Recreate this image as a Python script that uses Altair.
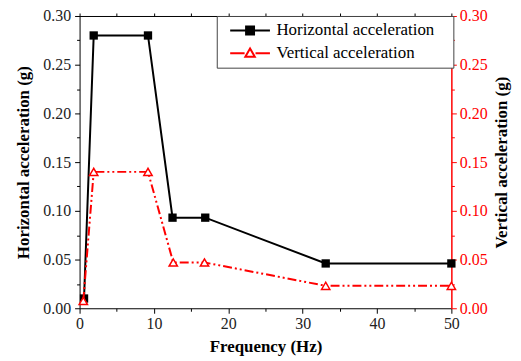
import altair as alt
import pandas as pd

# ---- data ----
series = ["Horizontal acceleration", "Vertical acceleration"]
freq_h = [0.6, 1.9, 9.2, 12.5, 16.9, 33.1, 50.0]
acc_h = [0.010, 0.280, 0.280, 0.093, 0.093, 0.046, 0.046]
freq_v = [0.5, 1.9, 9.2, 12.6, 16.8, 33.1, 50.0]
acc_v = [0.0075, 0.140, 0.140, 0.047, 0.047, 0.023, 0.023]
x_ticks = [0, 5, 10, 15, 20, 25, 30, 35, 40, 45, 50]
y_ticks = [0.0, 0.025, 0.05, 0.075, 0.1, 0.125, 0.15, 0.175, 0.2, 0.225, 0.25, 0.275, 0.3]

df_h = pd.DataFrame({"freq": freq_h, "acc": acc_h, "series": series[0]})
df_v = pd.DataFrame({"freq": freq_v, "acc": acc_v, "series": series[1]})
df_leg = pd.DataFrame({"series": series})

FONT = "Liberation Serif, Times New Roman, serif"
x_scale = alt.Scale(domain=[0, 50], nice=False, zero=False)
y_scale = alt.Scale(domain=[0, 0.3], nice=False)

lab_x = "datum.value % 10 === 0 ? datum.label : ''"
lab_y = "round(datum.value * 1000) % 50 === 0 ? format(datum.value, '.2f') : ''"
tick_x = {"condition": {"test": "datum.value % 10 === 0", "value": 5}, "value": 3}
tick_y = {"condition": {"test": "round(datum.value * 1000) % 50 === 0", "value": 5}, "value": 3}

common = dict(grid=False, labelFont=FONT, labelFontSize=16, titleFont=FONT,
              titleFontSize=17, titleFontWeight="bold", titleColor="black")

x_bottom = alt.Axis(values=x_ticks, labelExpr=lab_x, tickSize=tick_x, title="Frequency (Hz)",
                    domainColor="black", tickColor="black", labelColor="#222",
                    labelPadding=2, titlePadding=7, labelFlush=False, **common)
x_top = alt.Axis(orient="top", values=x_ticks, labels=False, tickSize=3, title=None,
                 domainColor="black", tickColor="black", grid=False)
y_left = alt.Axis(values=y_ticks, labelExpr=lab_y, tickSize=tick_y,
                  title="Horizontal acceleration (g)", domainColor="black", tickColor="black",
                  labelColor="#222", labelPadding=4, titlePadding=10, labelFlush=False, **common)
y_right = alt.Axis(orient="right", values=y_ticks, labelExpr=lab_y, tickSize=tick_y,
                   title="Vertical acceleration (g)", titleAngle=270, domainColor="red",
                   tickColor="red", labelColor="red", labelPadding=3, titlePadding=23,
                   domainWidth=1.5, labelFlush=False, **common)

line_h = alt.Chart(df_h).mark_line(color="black", strokeWidth=2).encode(
    x=alt.X("freq:Q", scale=x_scale, axis=x_bottom),
    y=alt.Y("acc:Q", scale=y_scale, axis=y_left),
)
pts_h = alt.Chart(df_h).mark_point(shape="square", filled=True, color="black", size=70, opacity=1).encode(
    x=alt.X("freq:Q", scale=x_scale, axis=x_top),
    y=alt.Y("acc:Q", scale=y_scale, axis=None),
)
line_v = alt.Chart(df_v).mark_line(color="red", strokeWidth=2, strokeDash=[9, 3, 2, 3, 2, 3]).encode(
    x=alt.X("freq:Q", scale=x_scale, axis=None),
    y=alt.Y("acc:Q", scale=y_scale, axis=y_right),
)
pts_v = alt.Chart(df_v).mark_point(shape="triangle-up", filled=True, fill="white", stroke="red",
                                   strokeWidth=1.5, size=70, opacity=1).encode(
    x=alt.X("freq:Q", scale=x_scale, axis=None),
    y=alt.Y("acc:Q", scale=y_scale, axis=None),
)

path_h = "M-4,0L4,0M-0.8,-0.8L0.8,-0.8L0.8,0.8L-0.8,0.8Z"
path_v = "M-4,0L-1.1,0M1.1,0L4,0M0,-0.95L0.95,0.7L-0.95,0.7Z"

leg = alt.Legend(title=None, orient="none", legendX=138, legendY=0, padding=6,
                 strokeColor="#444", fillColor="white", symbolSize=100, symbolStrokeWidth=2,
                 symbolOffset=19, labelOffset=18, labelFont=FONT, labelFontSize=17,
                 labelColor="black", rowPadding=5, symbolOpacity=1, labelLimit=300,
                 labelExpr="datum.label + '\u2800'")

legend_layer = alt.Chart(df_leg).transform_filter("false").mark_point(size=100, strokeWidth=2).encode(
    color=alt.Color("series:N", scale=alt.Scale(domain=series, range=["black", "red"]), legend=leg),
    shape=alt.Shape("series:N", scale=alt.Scale(domain=series, range=[path_h, path_v]), legend=leg),
    fill=alt.Fill("series:N", scale=alt.Scale(domain=series, range=["black", "white"]), legend=leg),
)

chart = alt.layer(line_h, pts_h, line_v, pts_v, legend_layer).resolve_axis(
    x="independent", y="independent"
).properties(
    width=374, height=294,
    autosize=alt.AutoSizeParams(type="none"),
    padding={"left": 72, "top": 7, "right": 62, "bottom": 50},
).configure_view(stroke=None)

chart.save("out.html", embed_options={"renderer": "svg", "actions": False})
